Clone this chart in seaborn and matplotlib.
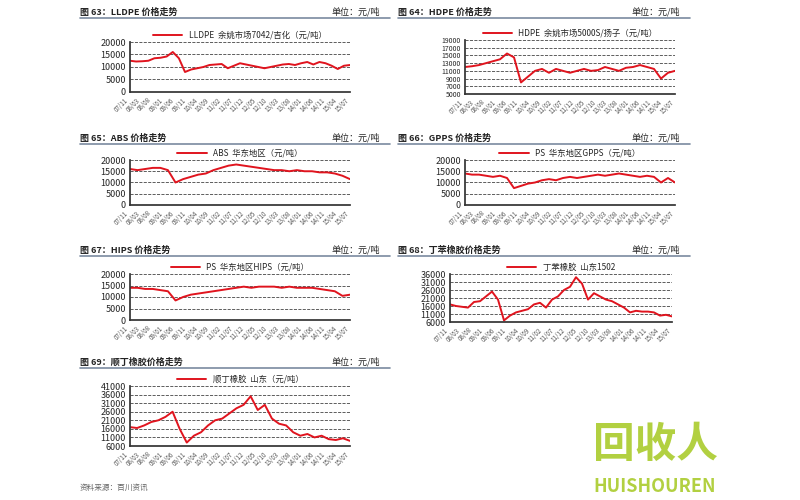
import matplotlib
matplotlib.use("Agg")
import matplotlib.pyplot as plt
import numpy as np
import pandas as pd
import seaborn as sns

sns.set_theme(style="white")
plt.rcParams['font.family'] = ['Noto Sans CJK SC', 'DejaVu Sans']

date_labels = ["07/11", "08/03", "08/08", "09/01", "09/06", "09/11", "10/04", "10/09", "11/02", "11/07",
               "11/12", "12/05", "12/10", "13/03", "13/08", "14/01", "14/06", "14/11", "15/04", "15/07"]

lldpe = [12500, 12200, 12300, 12500, 13500, 13700, 14200, 16000, 13500, 8000, 9000, 9500, 10000, 10800,
         11000, 11200, 9500, 10500, 11500, 11000, 10500, 10000, 9500, 10000, 10500, 11000, 11200, 10800,
         11500, 12000, 11000, 12000, 11500, 10500, 9200, 10500, 10800]
hdpe = [12000, 12200, 12500, 13000, 13500, 14000, 15500, 14500, 8000, 9500, 11000, 11500, 10500, 11500,
        11000, 10500, 11000, 11500, 11000, 11200, 12000, 11500, 11000, 11800, 12000, 12500, 12000, 11500,
        9000, 10500, 11000]
abs_ = [16000, 15500, 16000, 16500, 16500, 15500, 10000, 11500, 12500, 13500, 14000, 15500, 16500, 17500,
        18000, 17500, 17000, 16500, 16000, 15500, 15500, 15000, 15500, 15000, 15000, 14500, 14500, 14000,
        13000, 11500]
gpps = [14000, 13500, 13500, 13000, 12500, 13000, 12000, 7500, 8500, 9500, 10000, 11000, 11500, 11000,
        12000, 12500, 12000, 12500, 13000, 13500, 13000, 13500, 14000, 13500, 13000, 12500, 13000, 12500,
        10000, 12000, 10000]
hips = [14000, 14000, 13500, 13500, 13000, 12500, 8500, 10000, 11000, 11500, 12000, 12500, 13000, 13500,
        14000, 14500, 14000, 14500, 14500, 14500, 14000, 14500, 14000, 14000, 14000, 13500, 13000, 12500,
        10500, 11000]
sbr = [17000, 16000, 15500, 15000, 18500, 19000, 22000, 25000, 20000, 7000, 10000, 12000, 13000, 14000,
       17000, 18000, 15000, 20000, 22000, 26000, 28000, 34000, 30000, 20000, 24000, 22000, 20000, 19000,
       17000, 15000, 12000, 13000, 12500, 12500, 12000, 10000, 10500, 9500]
br = [17000, 16500, 18000, 20000, 21000, 23000, 26000, 16000, 8000, 12000, 14000, 18000, 21000, 22000,
      25000, 28000, 30000, 35000, 27000, 30000, 22000, 19000, 18000, 14000, 12000, 13000, 11000, 12000,
      10000, 9500, 10500, 9000]

W, H = 800, 500
fig = plt.figure(figsize=(8, 5), dpi=100)
fig.patch.set_facecolor("white")

panels = [
    # header x0,x1,y ; axes l,r,t,b ; title ; legend ; data ; yticks ; ytick font
    ((80, 390, 12), (130, 350, 42, 92), "图 63：LLDPE 价格走势", "LLDPE  余姚市场7042/吉化（元/吨）", lldpe, np.arange(0, 20001, 5000), 6.5),
    ((398, 690, 12), (465, 675, 40, 94), "图 64：HDPE 价格走势", "HDPE  余姚市场5000S/扬子（元/吨）", hdpe, np.arange(5000, 19001, 2000), 5),
    ((80, 390, 138), (130, 350, 160, 205), "图 65：ABS 价格走势", "ABS  华东地区（元/吨）", abs_, np.arange(0, 20001, 5000), 6.5),
    ((398, 690, 138), (465, 675, 160, 205), "图 66：GPPS 价格走势", "PS  华东地区GPPS（元/吨）", gpps, np.arange(0, 20001, 5000), 6.5),
    ((80, 390, 250), (130, 350, 274, 320), "图 67：HIPS 价格走势", "PS  华东地区HIPS（元/吨）", hips, np.arange(0, 20001, 5000), 6.5),
    ((398, 690, 250), (450, 672, 274, 322), "图 68：丁苯橡胶价格走势", "丁苯橡胶  山东1502", sbr, np.arange(6000, 36001, 5000), 6.5),
    ((80, 390, 362), (130, 350, 386, 446), "图 69：顺丁橡胶价格走势", "顺丁橡胶  山东（元/吨）", br, np.arange(6000, 41001, 5000), 6.5),
]

for (hx0, hx1, hy), (l, r, t, b), title, legend, data, yt, yfs in panels:
    fig.text(hx0 / W, 1 - hy / H, title, fontsize=6.5, fontweight="bold", va="center", color="#222")
    fig.text((hx1 - 10) / W, 1 - hy / H, "单位：元/吨", fontsize=6.5, va="center", ha="right", color="#222")
    fig.add_artist(plt.Line2D([hx0 / W, hx1 / W], [1 - (hy + 6) / H] * 2, color="#7a8aa0", lw=1.2))
    ax = fig.add_axes([l / W, 1 - b / H, (r - l) / W, (b - t) / H])
    df = pd.DataFrame({"x": np.arange(len(data)), "y": data})
    sns.lineplot(data=df, x="x", y="y", color="#e0141e", lw=1.4, ax=ax, label=legend)
    ax.set_ylim(yt[0], yt[-1])
    ax.set_xlim(0, len(data) - 1)
    ax.set_yticks(yt)
    ax.set_yticklabels([str(v) for v in yt], fontsize=yfs)
    ax.set_xticks(np.linspace(0, len(data) - 1, len(date_labels)))
    ax.set_xticklabels(date_labels, rotation=45, ha="right", fontsize=4.5, color="#555")
    ax.yaxis.grid(True, ls="--", color="#444", lw=0.6)
    ax.tick_params(length=2, pad=1)
    for s in ["top", "right"]:
        ax.spines[s].set_visible(False)
    for s in ["left", "bottom"]:
        ax.spines[s].set_color("#333")
    ax.set_xlabel("")
    ax.set_ylabel("")
    ax.legend(loc="lower center", bbox_to_anchor=(0.5, 0.98), frameon=False, fontsize=6,
              handlelength=3.5, borderaxespad=0)

fig.text(80 / W, 1 - 488 / H, "资料来源：百川资讯", fontsize=5.5, color="#666", va="center", style="italic")
fig.text(655 / W, 1 - 445 / H, "回收人", fontsize=30, color="#a5c820", ha="center", va="center",
         fontweight="bold", alpha=0.85)
fig.text(655 / W, 1 - 487 / H, "HUISHOUREN", fontsize=13, color="#a5c820", ha="center", va="center",
         fontweight="bold", alpha=0.85)

fig.savefig("out.png", dpi=100)
